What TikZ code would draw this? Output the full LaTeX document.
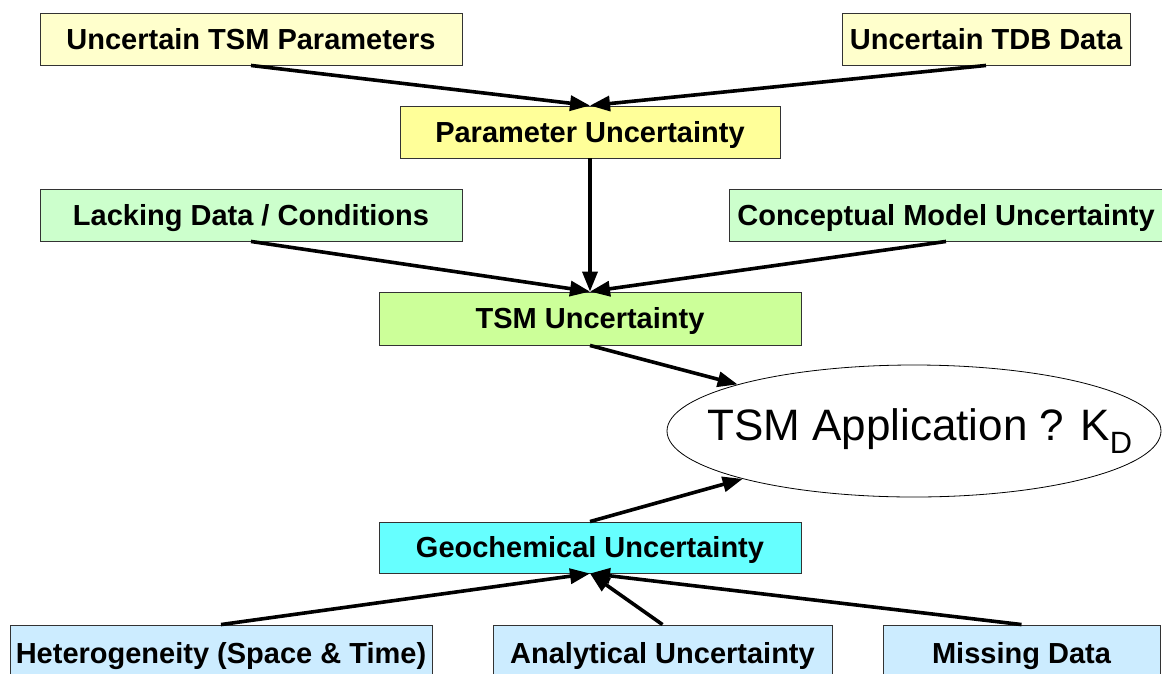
\documentclass[tikz,border=0pt]{standalone}
\usepackage{fontspec}
\setmainfont{Liberation Sans}
\usetikzlibrary{arrows.meta,shapes.geometric}
\definecolor{inputyellow}{HTML}{FFFFCC}
\definecolor{paramyellow}{HTML}{FFFF99}
\definecolor{lackgreen}{HTML}{CCFFCC}
\definecolor{tsmgreen}{HTML}{CCFF99}
\definecolor{geocyan}{HTML}{66FFFF}
\definecolor{sourceblue}{HTML}{CCECFF}
\begin{document}
\begin{tikzpicture}[x=1pt,y=-1pt,
  box/.style={draw=black!80, line width=0.9pt, inner sep=0pt,
    text height=20pt, text depth=0pt,
    font=\fontsize{29}{34}\selectfont\bfseries},
  link/.style={line width=3.6pt, -{Triangle[length=20pt,width=15pt]}}]
\useasboundingbox (0,0) rectangle (1162,673);

% top inputs
\node[box, fill=inputyellow, minimum width=422pt, minimum height=52pt] (tsmpar) at (251,39) {Uncertain TSM Parameters};
\node[box, fill=inputyellow, minimum width=288pt, minimum height=52pt] (tdb) at (986,39) {Uncertain TDB Data};
\node[box, fill=paramyellow, minimum width=380pt, minimum height=52pt] (param) at (590,132) {Parameter Uncertainty};

% model level
\node[box, fill=lackgreen, minimum width=422pt, minimum height=52pt] (lack) at (251,215) {Lacking Data / Conditions};
\node[box, fill=lackgreen, minimum width=434pt, minimum height=52pt] (concept) at (946,215) {Conceptual Model Uncertainty};
\node[box, fill=tsmgreen, minimum width=422pt, minimum height=53pt] (tsm) at (590,318.5) {TSM Uncertainty};

% application: outline and its label
\node[draw=black, line width=0.8pt, fill=white, ellipse, inner sep=0pt,
  minimum width=494pt, minimum height=132pt] (app) at (914,431) {};
\node[inner sep=0pt, font=\fontsize{44}{50}\selectfont] (applabel) at ([xshift=6pt]app.center) {TSM Application ? K\textsubscript{D}};

% geochemistry
\node[box, fill=geocyan, minimum width=422pt, minimum height=51pt] (geo) at (590,547.5) {Geochemical Uncertainty};
\node[box, fill=sourceblue, minimum width=422pt, minimum height=56pt] (het) at (221,653) {Heterogeneity (Space \& Time)};
\node[box, fill=sourceblue, minimum width=339pt, minimum height=56pt] (anal) at (662.5,653) {Analytical Uncertainty};
\node[box, fill=sourceblue, minimum width=277pt, minimum height=56pt] (miss) at (1021.5,653) {Missing Data};

% connectors
\draw[link] (tsmpar.south) -- (param.north);
\draw[link] (tdb.south) -- (param.north);
\draw[link] (param.south) -- (tsm.north);
\draw[link] (lack.south) -- (tsm.north);
\draw[link] (concept.south) -- (tsm.north);
\draw[link] (tsm.south) -- (app);
\draw[link] (geo.north) -- (app);
\draw[link] (het.north) -- (geo.south);
\draw[link] (anal.north) -- (geo.south);
\draw[link] (miss.north) -- (geo.south);
\end{tikzpicture}
\end{document}
